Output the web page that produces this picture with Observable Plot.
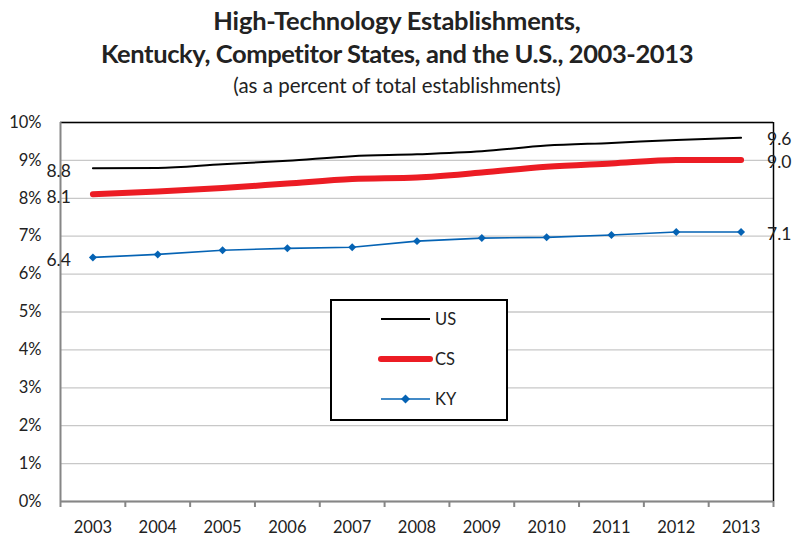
<!DOCTYPE html>
<html><head><meta charset="utf-8">
<script src="https://cdn.jsdelivr.net/npm/d3@7"></script>
<script src="https://cdn.jsdelivr.net/npm/@observablehq/plot@0.6"></script>
<style>
body{margin:0;background:#fff;}
#wrap{position:relative;width:794px;height:538px;font-family:Lato,sans-serif;color:#222;overflow:hidden;}
.t{position:absolute;left:0;width:794px;text-align:center;white-space:nowrap;}
#t1{top:5px;font-size:25.5px;line-height:30px;font-weight:700;letter-spacing:-0.2px;}
#t2{top:38px;font-size:25.5px;line-height:30px;font-weight:700;letter-spacing:-0.4px;}
#t3{top:72px;font-size:20.5px;line-height:26px;}
#chart{position:absolute;left:0;top:105px;}
#legend{position:absolute;left:330px;top:299px;}
</style></head>
<body>
<div id="wrap">
  <div class="t" id="t1">High-Technology Establishments,</div>
  <div class="t" id="t2">Kentucky, Competitor States, and the U.S., 2003-2013</div>
  <div class="t" id="t3">(as a percent of total establishments)</div>
  <div id="chart"></div>
  <div id="legend"></div>
</div>
<script>
const years = [2003, 2004, 2005, 2006, 2007, 2008, 2009, 2010, 2011, 2012, 2013];
const us = [8.79, 8.80, 8.90, 8.99, 9.11, 9.16, 9.24, 9.39, 9.46, 9.54, 9.60];
const cs = [8.11, 8.18, 8.27, 8.39, 8.51, 8.55, 8.68, 8.83, 8.92, 9.01, 9.01];
const ky = [6.44, 6.52, 6.63, 6.68, 6.71, 6.87, 6.95, 6.97, 7.03, 7.11, 7.11];
const yTicks = [0, 1, 2, 3, 4, 5, 6, 7, 8, 9, 10];
const seriesNames = ["US", "CS", "KY"];
const seriesColors = ["#000000", "#ec1c24", "#0563b4"];

const seriesVals = [us, cs, ky];
const rowsOf = (vals) => years.map((yr, i) => ({year: yr, v: vals[i]}));
const usRows = rowsOf(us), csRows = rowsOf(cs), kyRows = rowsOf(ky);
const firstLabels = seriesVals.map(v => ({year: years[0], v: v[0], label: v[0].toFixed(1)}));
const lastLabels = seriesVals.map(v => ({year: years[years.length-1], v: v[v.length-1], label: v[v.length-1].toFixed(1)}));
const bounds = years.map(y => y - 0.5).concat([years[years.length-1] + 0.5]);

const chart = Plot.plot({
  width: 794, height: 433,
  marginLeft: 60, marginRight: 21, marginTop: 17, marginBottom: 37,
  x: {type: "linear", domain: [bounds[0], bounds[bounds.length-1]], label: null},
  y: {domain: [0, 10], label: null},
  style: {fontFamily: "Lato, sans-serif", fontSize: "16.5px", color: "#222", background: "transparent"},
  marks: [
    Plot.gridY(yTicks, {stroke: "#c8c8c8", strokeOpacity: 1, strokeWidth: 1.3}),
    Plot.ruleY([10], {stroke: "#000", strokeWidth: 1.5}),
    Plot.ruleX([bounds[bounds.length-1]], {stroke: "#000", strokeWidth: 1.5}),
    Plot.ruleX([bounds[0]], {stroke: "#868686", strokeWidth: 2}),
    Plot.ruleY([0], {stroke: "#868686", strokeWidth: 2}),
    Plot.axisY(yTicks, {tickSize: 0, tickPadding: 19, tickFormat: d => d + "%", label: null}),
    Plot.axisX(bounds, {tickSize: 6, tickFormat: () => "", stroke: "#868686", strokeWidth: 2, label: null}),
    Plot.axisX(years, {tickSize: 0, tickPadding: 20, tickFormat: d => String(d), label: null}),
    Plot.line(usRows, {x: "year", y: "v", stroke: seriesColors[0], strokeWidth: 2, curve: "monotone-x"}),
    Plot.line(csRows, {x: "year", y: "v", stroke: seriesColors[1], strokeWidth: 6, curve: "monotone-x", strokeLinecap: "round"}),
    Plot.line(kyRows, {x: "year", y: "v", stroke: seriesColors[2], strokeWidth: 1.6}),
    Plot.dot(kyRows, {x: "year", y: "v", symbol: "diamond2", r: 3.6, fill: seriesColors[2], stroke: "none"}),
    Plot.text(firstLabels, {x: "year", y: "v", text: "label", textAnchor: "end", dx: -22, dy: 3, fontSize: 17.5, fill: "#222"}),
    Plot.text(lastLabels, {x: "year", y: "v", text: "label", textAnchor: "start", dx: 26, dy: 2, fontSize: 17.5, fill: "#222"})
  ]
});
document.getElementById("chart").appendChild(chart);

// legend
const ns = "http://www.w3.org/2000/svg";
const lg = document.createElementNS(ns, "svg");
lg.setAttribute("width", 178); lg.setAttribute("height", 122);
let html = `<rect x="1" y="1" width="176" height="120" fill="#fff" stroke="#000" stroke-width="2"/>`;
const widths = [2, 6, 1.6];
seriesNames.forEach((n, i) => {
  const yy = 20 + i * 40;
  html += `<line x1="51" x2="100" y1="${yy}" y2="${yy}" stroke="${seriesColors[i]}" stroke-width="${widths[i]}" stroke-linecap="${i===1?'round':'butt'}"/>`;
  if (i === 2) html += `<path d="M75.5,${yy-4.5}L80,${yy}L75.5,${yy+4.5}L71,${yy}Z" fill="${seriesColors[i]}"/>`;
  html += `<text x="105" y="${yy}" dy="0.35em" font-family="Lato, sans-serif" font-size="16.5" fill="#222">${n}</text>`;
});
lg.innerHTML = html;
document.getElementById("legend").appendChild(lg);
</script>
</body></html>
